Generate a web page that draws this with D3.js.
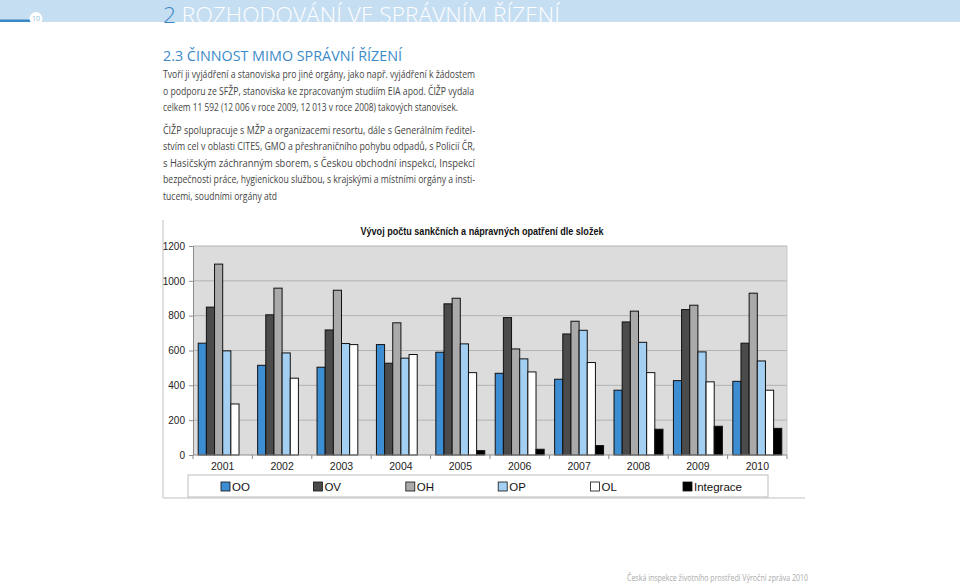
<!DOCTYPE html>
<html><head><meta charset="utf-8">
<script src="https://cdn.jsdelivr.net/npm/d3@7"></script>
<style>body{margin:0;background:#fff}svg{display:block}</style>
</head><body><svg id="c" width="960" height="585"></svg>
<script>
const years = ["2001","2002","2003","2004","2005","2006","2007","2008","2009","2010"];
const seriesNames = ["OO","OV","OH","OP","OL","Integrace"];
const OO = [642,515,504,634,590,469,435,372,427,423];
const OV = [849,805,718,527,868,789,695,764,835,642];
const OH = [1096,958,946,759,900,609,768,826,860,929];
const OP = [598,586,640,556,638,552,716,647,592,540];
const OL = [293,441,634,577,473,477,531,473,420,372];
const Integrace = [0,0,0,0,25,33,54,148,165,153];
const yTicks = [0,200,400,600,800,1000,1200];
const seriesColors = ["#3c8dd2","#4b4b4b","#aaaaaa","#a3d0f2","#ffffff","#000000"];
const chartTitle = "Vývoj počtu sankčních a nápravných opatření dle složek";
const headerNum = "2";
const headerText = " ROZHODOVÁNÍ VE SPRÁVNÍM ŘÍZENÍ";
const subTitle = "2.3 ČINNOST MIMO SPRÁVNÍ ŘÍZENÍ";
const para1 = [
 "Tvoří ji vyjádření a stanoviska pro jiné orgány, jako např. vyjádření k žádostem",
 "o podporu ze SFŽP, stanoviska ke zpracovaným studiím EIA apod. ČIŽP vydala",
 "celkem 11 592 (12 006 v roce 2009, 12 013 v roce 2008) takových stanovisek."];
const para2 = [
 "ČIŽP spolupracuje s MŽP a organizacemi resortu, dále s Generálním ředitel-",
 "stvím cel v oblasti CITES, GMO a přeshraničního pohybu odpadů, s Policií ČR,",
 "s Hasičským záchranným sborem, s Českou obchodní inspekcí, Inspekcí",
 "bezpečnosti práce, hygienickou službou, s krajskými a místními orgány a insti-",
 "tucemi, soudními orgány atd"];
const footer = "Česká inspekce životního prostředí  Výroční zpráva 2010";
const pageNo = "10";

const data = [OO,OV,OH,OP,OL,Integrace];
const svg = d3.select("#c");

// header
svg.append("rect").attr("x",0).attr("y",0).attr("width",960).attr("height",22).attr("fill","#c6def2");
svg.append("rect").attr("x",0).attr("y",19.5).attr("width",32).attr("height",2.5).attr("fill","#3a87c8");
svg.append("circle").attr("cx",36).attr("cy",18.5).attr("r",6.5).attr("fill","#fff");
svg.append("text").attr("x",36).attr("y",21).attr("text-anchor","middle").attr("font-family","Open Sans").attr("font-size",7).attr("fill","#8bbbe0").text(pageNo);
const ht = svg.append("text").attr("x",163).attr("y",22.5).attr("font-family","Open Sans").attr("font-weight",300).attr("font-size",22.5)
  .attr("textLength",397).attr("lengthAdjust","spacingAndGlyphs");
ht.append("tspan").attr("fill","#3a87c8").text(headerNum);
ht.append("tspan").attr("fill","#ffffff").text(headerText);

svg.append("text").attr("x",163).attr("y",61).attr("font-family","Open Sans").attr("font-size",15).attr("fill","#3a8ac8")
  .attr("textLength",239).attr("lengthAdjust","spacingAndGlyphs").text(subTitle);

const p1w = [312,311,295];
para1.forEach((t,i)=>{
  svg.append("text").attr("x",163).attr("y",78+i*16.6).attr("font-family","Open Sans").attr("font-size",10).attr("fill","#444")
   .attr("textLength",p1w[i]).attr("lengthAdjust","spacingAndGlyphs").text(t);
});
const p2w = [312,312,312,312,114];
para2.forEach((t,i)=>{
  svg.append("text").attr("x",163).attr("y",134+i*16.4).attr("font-family","Open Sans").attr("font-size",10).attr("fill","#444")
   .attr("textLength",p2w[i]).attr("lengthAdjust","spacingAndGlyphs").text(t);
});

// chart frame
svg.append("line").attr("x1",163).attr("x2",163).attr("y1",220).attr("y2",498).attr("stroke","#d6d6d6").attr("stroke-width",1.5);
svg.append("line").attr("x1",163).attr("x2",805).attr("y1",498).attr("y2",498).attr("stroke","#d6d6d6").attr("stroke-width",1.5);

const L=193, R=787, T=246, B=455;
const xCat = d3.scaleBand().domain(years).range([L,R]);
const x1 = d3.scaleBand().domain(seriesNames).range([0,xCat.bandwidth()]).paddingInner(0).paddingOuter(0.64);
const y = d3.scaleLinear().domain([0,1200]).range([B,T]);

svg.append("rect").attr("x",L).attr("y",T).attr("width",R-L).attr("height",B-T).attr("fill","#dcdcdc");
svg.append("g").selectAll("line").data(yTicks.filter(d=>d>0)).join("line")
  .attr("x1",L).attr("x2",R).attr("y1",d=>y(d)).attr("y2",d=>y(d)).attr("stroke","#b2b2b2").attr("stroke-width",1);
svg.append("line").attr("x1",R).attr("x2",R).attr("y1",T).attr("y2",B).attr("stroke","#cacaca");

// bars
const groups = svg.append("g").selectAll("g").data(seriesNames).join("g")
  .attr("fill",(d,i)=>seriesColors[i]);
groups.selectAll("rect").data((s,i)=>data[i].map((v,j)=>({s,v,yr:years[j]}))).join("rect")
  .attr("x",d=>xCat(d.yr)+x1(d.s)).attr("width",x1.bandwidth())
  .attr("y",d=>y(d.v)).attr("height",d=>B-y(d.v))
  .attr("stroke","#111").attr("stroke-width",1);

// y axis
const ya = svg.append("g").attr("transform",`translate(${L},0)`).call(d3.axisLeft(y).tickValues(yTicks).tickSize(4).tickPadding(4).tickFormat(d3.format("d")));
ya.select(".domain").attr("stroke","#8c8c8c");
ya.selectAll(".tick line").attr("stroke","#8c8c8c");
ya.selectAll("text").attr("font-family","Liberation Sans, Arial").attr("font-size",10).attr("fill","#222");

// x axis
svg.append("line").attr("x1",L).attr("x2",R).attr("y1",B).attr("y2",B).attr("stroke","#8c8c8c");
const xa = svg.append("g").attr("transform",`translate(0,${B})`).call(d3.axisBottom(xCat).tickSize(0).tickPadding(8));
xa.select(".domain").remove();
xa.selectAll("text").attr("font-family","Liberation Sans, Arial").attr("font-size",10.5).attr("fill","#222");
svg.append("g").selectAll("line").data(years.concat(["end"])).join("line")
  .attr("x1",(d,i)=>L+i*xCat.step()).attr("x2",(d,i)=>L+i*xCat.step())
  .attr("y1",B).attr("y2",B+4).attr("stroke","#8c8c8c");

// title
svg.append("text").attr("x",482).attr("y",235).attr("text-anchor","middle").attr("font-family","Liberation Sans Narrow, Arial Narrow, Liberation Sans").attr("font-weight","bold").attr("font-size",11).attr("fill","#111")
  .attr("textLength",243).attr("lengthAdjust","spacingAndGlyphs").text(chartTitle);

// legend
svg.append("rect").attr("x",188).attr("y",475).attr("width",580).attr("height",22).attr("fill","#fff").attr("stroke","#bdbdbd");
const lx = d3.scalePoint().domain(seriesNames).range([221,683]);
const lg = svg.append("g").selectAll("g").data(seriesNames).join("g").attr("transform",d=>`translate(${lx(d)},482)`);
lg.append("rect").attr("width",9).attr("height",9).attr("fill",(d,i)=>seriesColors[i]).attr("stroke","#111").attr("stroke-width",0.8);
lg.append("text").attr("x",11).attr("y",9).attr("font-family","Liberation Sans, Arial").attr("font-size",11.5).attr("fill","#111").text(d=>d);

// footer
svg.append("text").attr("x",627).attr("y",581).attr("font-family","Open Sans").attr("font-size",8.5).attr("fill","#aaa")
  .attr("textLength",181).attr("lengthAdjust","spacingAndGlyphs").text(footer);
</script></body></html>
